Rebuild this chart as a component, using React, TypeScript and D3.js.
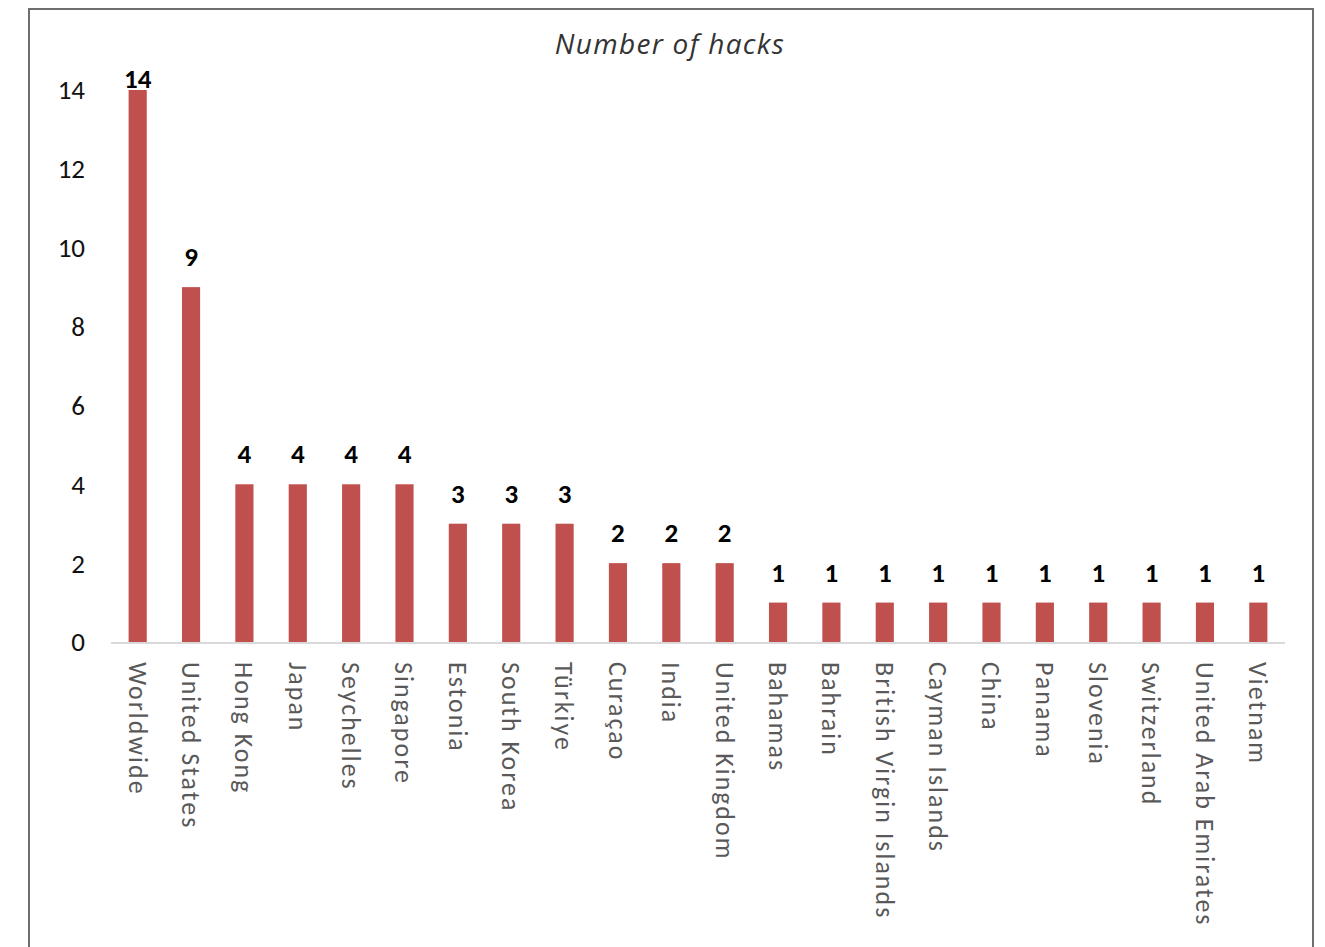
import React from "react";
import * as d3 from "d3";

const categories = ["Worldwide","United States","Hong Kong","Japan","Seychelles","Singapore","Estonia","South Korea","Türkiye","Curaçao","India","United Kingdom","Bahamas","Bahrain","British Virgin Islands","Cayman Islands","China","Panama","Slovenia","Switzerland","United Arab Emirates","Vietnam"];
const hacks = [14,9,4,4,4,4,3,3,3,2,2,2,1,1,1,1,1,1,1,1,1,1];
const yTicks = [0,2,4,6,8,10,12,14];
const title = "Number of hacks";

const W = 1325, H = 947;
const FONT = "Carlito, Calibri, 'Open Sans', 'Liberation Sans', sans-serif";

export default function App() {
  const x = d3.scaleBand<string>().domain(categories).range([111, 1285]).paddingInner(0.66).paddingOuter(0.33);
  const y = d3.scaleLinear().domain([0, 14]).range([642, 90]);
  return (
    <svg width={W} height={H} style={{ position: "absolute", left: 0, top: 0, background: "#fff" }}>
      <rect x={29} y={9} width={1284} height={960} fill="#fff" stroke="#6e6e6e" strokeWidth={2} />
      <text x={670} y={54} textAnchor="middle" fontFamily="'Open Sans', sans-serif" fontStyle="italic" fontSize={28} letterSpacing={1.3} fill="#333">{title}</text>
      {yTicks.map(t => (
        <text key={t} x={85} y={y(t)} dy="0.35em" textAnchor="end" fontFamily={FONT} fontSize={27} fill="#111">{t}</text>
      ))}
      {categories.map((c, i) => (
        <g key={c}>
          <rect x={x(c)!} y={y(hacks[i])} width={x.bandwidth()} height={y(0) - y(hacks[i])} fill="#C0504D" />
          <text x={x(c)! + x.bandwidth() / 2} y={Math.max(y(hacks[i]) - 21, 88)} textAnchor="middle" fontFamily={FONT} fontWeight="bold" fontSize={27} fill="#000">{hacks[i]}</text>
          <text transform={`translate(${x(c)! + x.bandwidth() / 2},662) rotate(90)`} dy="0.35em" textAnchor="start" fontFamily={FONT} fontSize={26} letterSpacing={2} fill="#595959">{c}</text>
        </g>
      ))}
      <line x1={111} x2={1285} y1={y(0) + 1} y2={y(0) + 1} stroke="#d9d9d9" strokeWidth={2} />
    </svg>
  );
}
